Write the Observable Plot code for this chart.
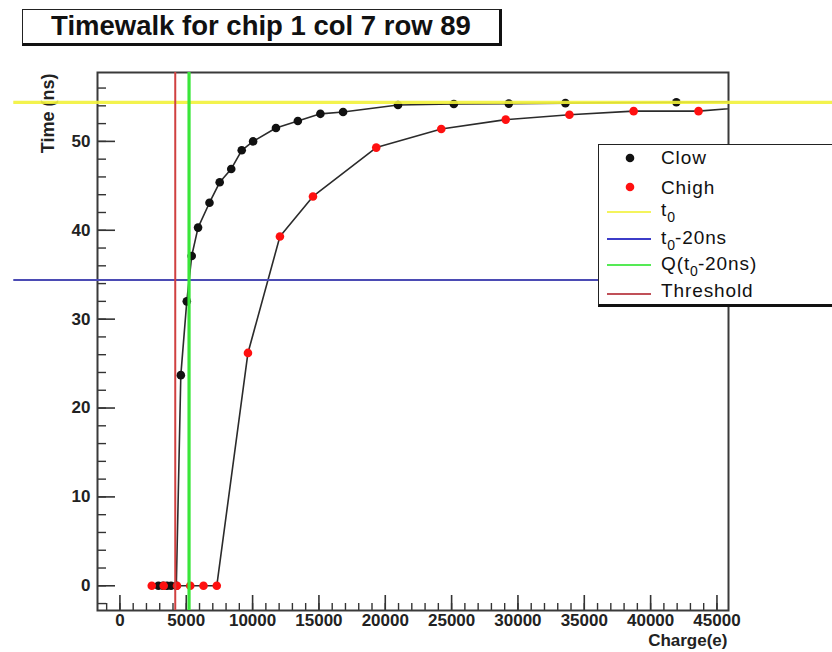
<!DOCTYPE html>
<html><head><meta charset="utf-8">
<script src="https://cdn.jsdelivr.net/npm/d3@7"></script>
<script src="https://cdn.jsdelivr.net/npm/@observablehq/plot@0.6"></script>
<style>
body{margin:0;background:#fff;font-family:"Liberation Sans",Arial,sans-serif;}
#wrap{position:relative;width:832px;height:652px;overflow:hidden;background:#fff;}
#titlebar{position:relative;height:52px;}
#titlebox{position:absolute;left:22px;top:9px;width:480px;height:37px;box-sizing:border-box;border:1.5px solid #222;border-right:3px solid #111;border-bottom:3px solid #111;background:#fff;text-align:center;font-weight:bold;font-size:27.5px;line-height:32px;color:#111;}
#legend{position:absolute;left:598px;top:143.5px;width:260px;height:163px;box-sizing:border-box;border-left:1.5px solid #222;border-top:1.5px solid #222;border-bottom:3.5px solid #111;background:#fff;z-index:2;}
.lt{position:absolute;left:62px;top:0;font-size:19px;line-height:19px;letter-spacing:0.9px;color:#111;white-space:nowrap;}
.lt sub{font-size:14px;vertical-align:-6px;line-height:0;letter-spacing:0;}
.sw{position:absolute;left:0;top:0;}
</style>
</head><body>
<div id="wrap">
  <div id="titlebar"><div id="titlebox"></div></div>
  <div id="chart"></div>
  <div id="legend"></div>
</div>
<script>
// ---------------- data ----------------
const titleText = "Timewalk for chip 1 col 7 row 89";
const xLabel = "Charge(e)";
const yLabel = "Time (ns)";

const clowCharge = [2900, 3250, 3550, 3850, 4250, 4590, 5040, 5410, 5890, 6750, 7520, 8390, 9180, 10040, 11760, 13410, 15110, 16820, 20960, 25170, 29310, 33580, 41940];
const clowTime   = [0, 0, 0, 0, 0, 23.7, 32.0, 37.1, 40.3, 43.1, 45.4, 46.9, 49.0, 50.0, 51.5, 52.3, 53.1, 53.3, 54.1, 54.2, 54.25, 54.3, 54.4];
const clowTailCharge = [48000];
const clowTailTime = [54.5];

const chighCharge = [2400, 3300, 4300, 5300, 6300, 7300, 9650, 12060, 14550, 19320, 24220, 29080, 33880, 38720, 43610];
const chighTime   = [0, 0, 0, 0, 0, 0, 26.2, 39.3, 43.8, 49.3, 51.4, 52.45, 53.0, 53.4, 53.4];
const chighTailCharge = [48000];
const chighTailTime = [53.95];

const t0 = 54.4;
const t0Minus20 = 34.4;
const qAtT0Minus20 = 5210;
const threshold = 4170;
const hLineSpan = [-8000, 60000];

const xMajorTicks = [0, 5000, 10000, 15000, 20000, 25000, 30000, 35000, 40000, 45000];
const xMinorTicks = d3.range(-1000, 45001, 1000);
const yMajorTicks = [0, 10, 20, 30, 40, 50];
const yMinorTicks = d3.range(-2, 57, 2);

const legendLabels = ["Clow", "Chigh", "t<sub>0</sub>", "t<sub>0</sub>-20ns", "Q(t<sub>0</sub>-20ns)", "Threshold"];
const legendKinds  = ["dot", "dot", "line", "line", "line", "line"];
const legendColors = ["#111111", "#ff1010", "#f4f45c", "#3c3cc8", "#55ea55", "#c05058"];

// ---------------- build ----------------
const clowPts = clowCharge.map((c, i) => ({charge: c, time: clowTime[i]}));
const chighPts = chighCharge.map((c, i) => ({charge: c, time: chighTime[i]}));
const clowLine = clowPts.concat(clowTailCharge.map((c, i) => ({charge: c, time: clowTailTime[i]})));
const chighLine = chighPts.concat(chighTailCharge.map((c, i) => ({charge: c, time: chighTailTime[i]})));

document.getElementById("titlebox").textContent = titleText;

const font = "Liberation Sans, Arial, sans-serif";
const chart = Plot.plot({
  width: 832,
  height: 600,
  marginTop: 20,
  marginBottom: 42,
  marginLeft: 97,
  marginRight: 104,
  style: {fontFamily: font, background: "transparent", overflow: "visible"},
  x: {domain: [-1690, 45870]},
  y: {domain: [-2.78, 57.75]},
  marks: [
    Plot.line(clowLine, {x: "charge", y: "time", stroke: "#2b2b2b", strokeWidth: 1.6, clip: true}),
    Plot.line(chighLine, {x: "charge", y: "time", stroke: "#2b2b2b", strokeWidth: 1.6, clip: true}),
    Plot.dot(clowPts, {x: "charge", y: "time", r: 4.3, fill: "#111", stroke: "none", clip: true}),
    Plot.dot(chighPts, {x: "charge", y: "time", r: 4.3, fill: "#ff1010", stroke: "none", clip: true}),
    // axes: ticks pointing inwards (ROOT style)
    Plot.axisX(xMinorTicks, {tickSize: -7, tickFormat: () => "", label: null, stroke: "#333", strokeWidth: 1.4}),
    Plot.axisX(xMajorTicks, {tickSize: -15, tickFormat: () => "", label: null, stroke: "#333", strokeWidth: 1.6}),
    Plot.axisX(xMajorTicks, {tickSize: 0, tickPadding: 3, tickFormat: d => String(d), label: null, fontSize: 17, fontWeight: "bold", fill: "#222"}),
    Plot.axisY(yMinorTicks, {tickSize: -9, tickFormat: () => "", label: null, stroke: "#333", strokeWidth: 1.4}),
    Plot.axisY(yMajorTicks, {tickSize: -18, tickFormat: () => "", label: null, stroke: "#333", strokeWidth: 1.6}),
    Plot.axisY(yMajorTicks, {tickSize: 0, tickPadding: 7, tickFormat: d => String(d), label: null, fontSize: 17, fontWeight: "bold", fill: "#222"}),
    Plot.frame({stroke: "#3a3a3a", strokeWidth: 2}),
    Plot.text([xLabel], {frameAnchor: "bottom-right", textAnchor: "end", lineAnchor: "middle", dx: -1, dy: 30, fontSize: 17, fontWeight: "bold", fill: "#222", text: d => d}),
    Plot.text([yLabel], {frameAnchor: "top-left", rotate: -90, textAnchor: "end", lineAnchor: "bottom", dx: -44, dy: 1, fontSize: 18, fontWeight: "bold", fill: "#222", text: d => d}),
    // reference lines
    Plot.ruleY([t0], {x1: hLineSpan[0], x2: hLineSpan[1], stroke: "#f2f23a", strokeWidth: 3.3, strokeOpacity: 0.9}),
    Plot.ruleY([t0Minus20], {x1: hLineSpan[0], x2: hLineSpan[1], stroke: "#4b4bb4", strokeWidth: 2}),
    Plot.ruleX([qAtT0Minus20], {stroke: "#3ae63a", strokeWidth: 3.2}),
    Plot.ruleX([threshold], {stroke: "#d04040", strokeWidth: 2})
  ]
});
document.getElementById("chart").appendChild(chart);

// legend
const rowsY = [13.2, 42.5, 64.5, 92.8, 118.8, 145.5];
const lineY = [13.2, 42.5, 67.5, 94.8, 120.8, 149.2];
const leg = document.getElementById("legend");
legendLabels.forEach((lab, i) => {
  const sw = document.createElementNS("http://www.w3.org/2000/svg", "svg");
  sw.setAttribute("width", 60); sw.setAttribute("height", 12);
  sw.setAttribute("class", "sw");
  sw.style.top = (lineY[i] - 6) + "px";
  if (legendKinds[i] === "dot") {
    const c = document.createElementNS("http://www.w3.org/2000/svg", "circle");
    c.setAttribute("cx", 31); c.setAttribute("cy", 6); c.setAttribute("r", 4.3);
    c.setAttribute("fill", legendColors[i]);
    sw.appendChild(c);
  } else {
    const l = document.createElementNS("http://www.w3.org/2000/svg", "line");
    l.setAttribute("x1", 8); l.setAttribute("x2", 52); l.setAttribute("y1", 6); l.setAttribute("y2", 6);
    l.setAttribute("stroke", legendColors[i]); l.setAttribute("stroke-width", 2.2);
    sw.appendChild(l);
  }
  leg.appendChild(sw);
  const t = document.createElement("div");
  t.className = "lt";
  t.style.top = (rowsY[i] - 9.5) + "px";
  t.innerHTML = lab;
  leg.appendChild(t);
});
</script>
</body></html>
